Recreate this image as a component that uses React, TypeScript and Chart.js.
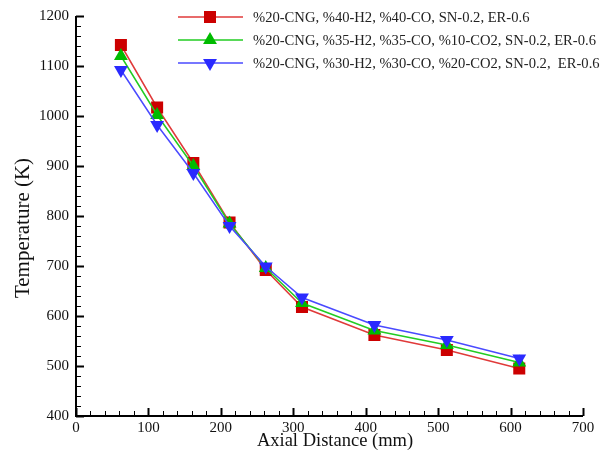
import React, { useEffect, useRef } from "react";
import { Chart, registerables } from "chart.js";

Chart.register(...registerables);

const xValues = [62, 112, 162, 212, 262, 312, 412, 512, 612];
const seriesLabels = [
  "%20-CNG, %40-H2, %40-CO, SN-0.2, ER-0.6",
  "%20-CNG, %35-H2, %35-CO, %10-CO2, SN-0.2, ER-0.6",
  "%20-CNG, %30-H2, %30-CO, %20-CO2, SN-0.2,  ER-0.6",
];
const redValues = [1142, 1017, 906, 787, 692, 618, 562, 532, 495];
const greenValues = [1120, 1002, 900, 785, 696, 626, 571, 542, 507];
const blueValues = [1092, 982, 886, 780, 699, 637, 582, 552, 515];
const xTickValues = [0, 100, 200, 300, 400, 500, 600, 700];
const yTickValues = [400, 500, 600, 700, 800, 900, 1000, 1100, 1200];
const xTitle = "Axial Distance (mm)";
const yTitle = "Temperature (K)";

const FONT = "'Liberation Serif', 'Times New Roman', serif";

const axesPlugin = {
  id: "axesPlugin",
  afterDatasetsDraw(chart: any) {
    const { ctx, chartArea } = chart;
    const x = chart.scales.x;
    const y = chart.scales.y;
    ctx.save();
    ctx.strokeStyle = "#000";
    ctx.lineCap = "butt";
    ctx.lineWidth = 2;
    ctx.beginPath();
    ctx.moveTo(chartArea.left, chartArea.top);
    ctx.lineTo(chartArea.left, chartArea.bottom);
    ctx.lineTo(chartArea.right, chartArea.bottom);
    ctx.stroke();
    for (let v = x.min; v <= x.max + 1e-6; v += 20) {
      const major = Math.round(v) % 100 === 0;
      const px = Math.round(x.getPixelForValue(v)) + 0.5;
      ctx.lineWidth = major ? 2 : 1;
      ctx.beginPath();
      ctx.moveTo(px, chartArea.bottom);
      ctx.lineTo(px, chartArea.bottom - (major ? 8 : 5));
      ctx.stroke();
    }
    for (let v = y.min; v <= y.max + 1e-6; v += 20) {
      const major = Math.round(v) % 100 === 0;
      const py = Math.round(y.getPixelForValue(v)) + 0.5;
      ctx.lineWidth = major ? 2 : 1;
      ctx.beginPath();
      ctx.moveTo(chartArea.left, py);
      ctx.lineTo(chartArea.left + (major ? 8 : 5), py);
      ctx.stroke();
    }
    // titles
    ctx.fillStyle = "#111";
    ctx.textAlign = "center";
    ctx.textBaseline = "middle";
    ctx.font = `18.5px ${FONT}`;
    ctx.fillText(xTitle, 335, 441);
    ctx.font = `21px ${FONT}`;
    ctx.translate(23, 228);
    ctx.rotate(-Math.PI / 2);
    ctx.fillText(yTitle, 0, 0);
    ctx.restore();
  },
};

function drawMarker(ctx: CanvasRenderingContext2D, style: string, x: number, y: number, r: number) {
  ctx.beginPath();
  if (style === "rect") {
    const s = r * Math.SQRT1_2;
    ctx.rect(x - s, y - s, 2 * s, 2 * s);
  } else {
    const dir = style === "triangle" ? 1 : -1;
    const w = (r * Math.sqrt(3)) / 2;
    ctx.moveTo(x, y - dir * r);
    ctx.lineTo(x + w, y + (dir * r) / 2);
    ctx.lineTo(x - w, y + (dir * r) / 2);
    ctx.closePath();
  }
  ctx.fill();
}

const legendPlugin = {
  id: "customLegend",
  afterDraw(chart: any) {
    const { ctx } = chart;
    const ds = chart.data.datasets;
    const rows = [17, 40, 63];
    ctx.save();
    ds.forEach((d: any, i: number) => {
      const yy = rows[i];
      ctx.strokeStyle = d.borderColor;
      ctx.lineWidth = 1.5;
      ctx.beginPath();
      ctx.moveTo(178, yy);
      ctx.lineTo(243, yy);
      ctx.stroke();
      ctx.fillStyle = d.pointBackgroundColor;
      const style = d.pointStyle === "triangle" && d.pointRotation === 180 ? "down" : d.pointStyle;
      drawMarker(ctx, style, 210, yy, d.pointRadius);
      ctx.fillStyle = "#222";
      ctx.font = `14.6px ${FONT}`;
      ctx.textBaseline = "middle";
      ctx.textAlign = "left";
      ctx.fillText(d.label, 253, yy + 1);
    });
    ctx.restore();
  },
};

export default function App() {
  const ref = useRef<HTMLCanvasElement | null>(null);
  useEffect(() => {
    if (!ref.current) return;
    const mk = (vals: number[]) => vals.map((v, i) => ({ x: xValues[i], y: v }));
    const chart = new Chart(ref.current, {
      type: "line",
      data: {
        datasets: [
          {
            label: seriesLabels[0],
            data: mk(redValues),
            borderColor: "#e03a3a",
            backgroundColor: "#cc0000",
            pointBackgroundColor: "#cc0000",
            pointBorderColor: "#cc0000",
            pointStyle: "rect",
            pointRadius: 8.5,
            pointBorderWidth: 0,
            borderWidth: 1.5,
            order: 2,
          } as any,
          {
            label: seriesLabels[1],
            data: mk(greenValues),
            borderColor: "#22cc22",
            backgroundColor: "#00bb00",
            pointBackgroundColor: "#00bb00",
            pointBorderColor: "#00bb00",
            pointStyle: "triangle",
            pointRadius: 8,
            pointBorderWidth: 0,
            borderWidth: 1.5,
            order: 1,
          } as any,
          {
            label: seriesLabels[2],
            data: mk(blueValues),
            borderColor: "#4a4aff",
            backgroundColor: "#2a2aff",
            pointBackgroundColor: "#2a2aff",
            pointBorderColor: "#2a2aff",
            pointStyle: "triangle",
            pointRotation: 180,
            pointRadius: 8,
            pointBorderWidth: 0,
            borderWidth: 1.5,
            order: 0,
          } as any,
        ],
      },
      options: {
        responsive: false,
        animation: false,
        layout: { padding: { top: 16, right: 31, left: 0, bottom: 0 } },
        plugins: { legend: { display: false }, tooltip: { enabled: false } },
        scales: {
          x: {
            type: "linear",
            min: 0,
            max: 700,
            afterBuildTicks: (s: any) => {
              s.ticks = xTickValues.map((v) => ({ value: v }));
            },
            afterFit: (s: any) => {
              s.height = 40;
            },
            grid: { display: false, drawTicks: false },
            border: { display: false },
            ticks: {
              color: "#111",
              font: { family: FONT, size: 15 },
              padding: 3,
              maxRotation: 0,
              callback: (v: any) => String(v),
            },
          },
          y: {
            type: "linear",
            min: 400,
            max: 1200,
            afterBuildTicks: (s: any) => {
              s.ticks = yTickValues.map((v) => ({ value: v }));
            },
            afterFit: (s: any) => {
              s.width = 76;
            },
            grid: { display: false, drawTicks: false },
            border: { display: false },
            ticks: {
              color: "#111",
              font: { family: FONT, size: 15 },
              padding: 7,
              callback: (v: any) => String(v),
            },
          },
        },
      },
      plugins: [axesPlugin, legendPlugin],
    });
    return () => chart.destroy();
  }, []);
  return (
    <div style={{ position: "absolute", left: 0, top: 0, width: 614, height: 456, background: "#fff" }}>
      <canvas ref={ref} width={614} height={456} style={{ width: 614, height: 456 }} />
    </div>
  );
}
